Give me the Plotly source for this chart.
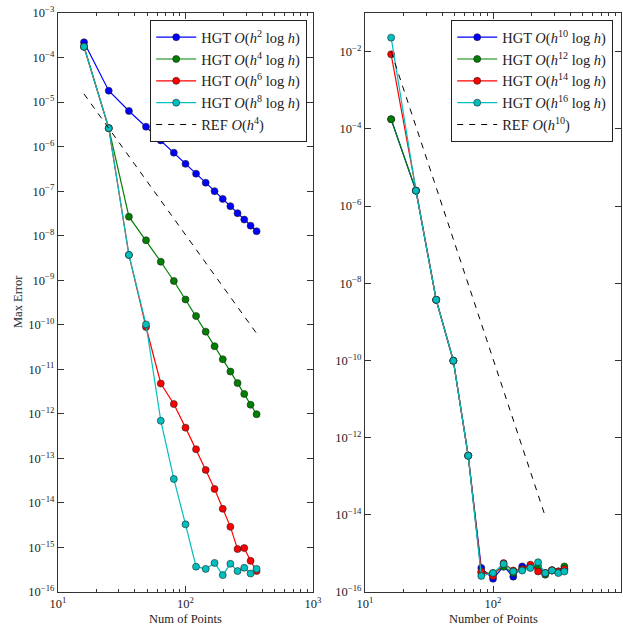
import plotly.graph_objects as go

# Number of collocation points (n^2, n = 4..19)
num_points = [16, 25, 36, 49, 64, 81, 100, 121, 144, 169, 196, 225, 256, 289, 324, 361]

# Left panel: low-order HGT max errors
err_h2 = [2.2e-4, 1.8e-5, 6.3e-6, 2.8e-6, 1.38e-6, 7.3e-7, 4.1e-7, 2.47e-7,
          1.55e-7, 1.0e-7, 6.7e-8, 4.6e-8, 3.2e-8, 2.3e-8, 1.68e-8, 1.26e-8]
err_h4 = [1.75e-4, 2.6e-6, 2.67e-8, 7.9e-9, 2.6e-9, 9.6e-10, 3.7e-10, 1.57e-10,
          7.0e-11, 3.3e-11, 1.68e-11, 8.9e-12, 4.9e-12, 2.8e-12, 1.6e-12, 9.8e-13]
err_h6 = [1.75e-4, 2.6e-6, 3.7e-9, 8.9e-11, 4.8e-12, 1.66e-12, 4.9e-13, 1.6e-13,
          5.5e-14, 2.06e-14, 7.4e-15, 2.9e-15, 9.2e-16, 9.7e-16, 5.0e-16, 2.95e-16]
err_h8 = [1.75e-4, 2.6e-6, 3.7e-9, 1.02e-10, 7.0e-13, 3.45e-14, 3.3e-15, 3.7e-16,
          3.3e-16, 4.5e-16, 2.4e-16, 4.3e-16, 2.95e-16, 3.5e-16, 2.6e-16, 3.3e-16]
ref_left_n = [16, 361]
ref_left_err = [1.52e-5, 6.4e-11]

# Right panel: high-order HGT max errors
err_h10 = [1.77e-4, 2.5e-6, 3.7e-9, 9.8e-11, 3.4e-13, 4.2e-16, 2.2e-16, 4.6e-16,
           2.5e-16, 4.6e-16, 4.8e-16, 4.2e-16, 3.1e-16, 3.6e-16, 3.4e-16, 3.9e-16]
err_h12 = [1.77e-4, 2.5e-6, 3.7e-9, 9.8e-11, 3.4e-13, 3.1e-16, 3.1e-16, 4.5e-16,
           3.1e-16, 3.9e-16, 4.6e-16, 4.6e-16, 2.8e-16, 3.6e-16, 3.4e-16, 4.6e-16]
err_h14 = [8.5e-3, 2.5e-6, 3.7e-9, 9.8e-11, 3.4e-13, 3.4e-16, 2.6e-16, 5.6e-16,
           3.6e-16, 3.9e-16, 5.1e-16, 3.4e-16, 3.1e-16, 3.7e-16, 3.4e-16, 3.9e-16]
err_h16 = [2.3e-2, 2.5e-6, 3.7e-9, 9.8e-11, 3.4e-13, 2.6e-16, 3.1e-16, 5.3e-16,
           3.4e-16, 3.6e-16, 4.2e-16, 5.9e-16, 3.1e-16, 3.6e-16, 3.1e-16, 3.4e-16]
ref_right_n = [16, 256]
ref_right_err = [1.0e-2, 9.1e-15]

# Tick labels
x_tick_exps = [1, 2, 3]
left_y_exps = list(range(-16, -2))
right_y_exps = list(range(-16, 0, 2))


def pow_label(e):
    return "10<sup>%s</sup>" % (str(e).replace("-", "\u2212"))


FONT = "Liberation Serif"
COLORS = {"b": "#0000ff", "g": "#008000", "r": "#ff0000", "c": "#00bfbf"}


def legend_text(order):
    return "HGT <i>O</i>(<i>h</i><sup>%s</sup> log <i>h</i>)" % order


fig = go.Figure()


def add_series(x, y, color, name, xa, ya, leg):
    fig.add_trace(go.Scatter(
        x=x, y=y, mode="lines+markers", name=name,
        line=dict(color=color, width=1.2),
        marker=dict(color=color, size=7, line=dict(color="#222222", width=0.6)),
        xaxis=xa, yaxis=ya, legend=leg))


add_series(num_points, err_h2, COLORS["b"], legend_text(2), "x", "y", "legend")
add_series(num_points, err_h4, COLORS["g"], legend_text(4), "x", "y", "legend")
add_series(num_points, err_h6, COLORS["r"], legend_text(6), "x", "y", "legend")
add_series(num_points, err_h8, COLORS["c"], legend_text(8), "x", "y", "legend")
fig.add_trace(go.Scatter(
    x=ref_left_n, y=ref_left_err, mode="lines", name="REF <i>O</i>(<i>h</i><sup>4</sup>)",
    line=dict(color="black", width=1, dash="6px,6px"), xaxis="x", yaxis="y", legend="legend"))

add_series(num_points, err_h10, COLORS["b"], legend_text(10), "x2", "y2", "legend2")
add_series(num_points, err_h12, COLORS["g"], legend_text(12), "x2", "y2", "legend2")
add_series(num_points, err_h14, COLORS["r"], legend_text(14), "x2", "y2", "legend2")
add_series(num_points, err_h16, COLORS["c"], legend_text(16), "x2", "y2", "legend2")
fig.add_trace(go.Scatter(
    x=ref_right_n, y=ref_right_err, mode="lines", name="REF <i>O</i>(<i>h</i><sup>10</sup>)",
    line=dict(color="black", width=1, dash="6px,6px"), xaxis="x2", yaxis="y2", legend="legend2"))

W, H = 623, 626
left_dom = [58 / W, 313 / W]
right_dom = [365 / W, 621 / W]
y_dom = [(H - 592) / H, (H - 13) / H]

axis_common = dict(
    type="log", showline=True, linecolor="#333333", linewidth=1.2, mirror="allticks",
    ticks="inside", ticklen=6, tickcolor="#333333", showgrid=False, zeroline=False,
    automargin=False, tickfont=dict(family=FONT, size=12.5, color="#222222"),
)
x_minor = dict(ticks="inside", ticklen=3, tickcolor="#333333", dtick="D1", showgrid=False)

legend_common = dict(
    xanchor="right", y=(H - 20) / H, yanchor="top", itemwidth=40,
    bgcolor="white", bordercolor="#222222", borderwidth=1.2,
    font=dict(family=FONT, size=14.5, color="#222222"),
)

title_font = dict(family=FONT, size=12.5, color="#222222")
axis_titles = [
    dict(text="Num of Points", x=(58 + 313) / 2 / W, y=(H - 619) / H, textangle=0),
    dict(text="Number of Points", x=(365 + 621) / 2 / W, y=(H - 619) / H, textangle=0),
    dict(text="Max Error", x=18 / W, y=(H - 302) / H, textangle=-90),
]

fig.update_layout(
    width=W, height=H, margin=dict(l=0, r=0, t=0, b=0),
    paper_bgcolor="white", plot_bgcolor="white",
    font=dict(family=FONT, color="#222222"),
    xaxis=dict(axis_common, domain=left_dom, range=[1, 3], anchor="y",
               tickvals=[10 ** e for e in x_tick_exps],
               ticktext=[pow_label(e) for e in x_tick_exps], minor=x_minor),
    yaxis=dict(axis_common, domain=y_dom, range=[-16, -3], anchor="x",
               tickvals=[10.0 ** e for e in left_y_exps + [-3]],
               ticktext=[pow_label(e) for e in left_y_exps + [-3]]),
    xaxis2=dict(axis_common, domain=right_dom, range=[1, 3], anchor="y2",
                tickvals=[10 ** e for e in x_tick_exps],
                ticktext=[pow_label(e) for e in x_tick_exps], minor=x_minor),
    yaxis2=dict(axis_common, domain=y_dom, range=[-16, -1], anchor="x2",
                tickvals=[10.0 ** e for e in right_y_exps],
                ticktext=[pow_label(e) for e in right_y_exps]),
    legend=dict(legend_common, x=307 / W),
    legend2=dict(legend_common, x=613 / W),
    annotations=[dict(a, xref="paper", yref="paper", xanchor="center", yanchor="middle",
                      showarrow=False, font=title_font) for a in axis_titles],
)

fig.write_html("out.html")
